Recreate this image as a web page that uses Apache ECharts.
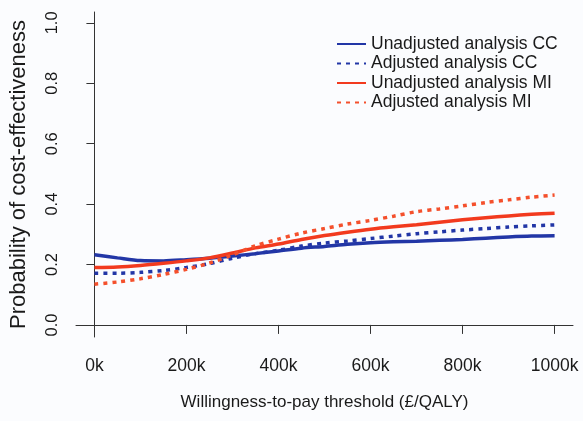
<!DOCTYPE html>
<html>
<head>
<meta charset="utf-8">
<script src="https://cdn.jsdelivr.net/npm/echarts@6/dist/echarts.min.js"></script>
<style>
html, body { margin: 0; padding: 0; background: #fbfcfe; }
#main { width: 583px; height: 421px; }
</style>
</head>
<body>
<div id="main"></div>
<script>
// willingness-to-pay threshold, in thousands of pounds
var wtp = [0, 50, 100, 150, 200, 250, 300, 350, 400, 450, 500,
           550, 600, 650, 700, 750, 800, 850, 900, 950, 1000];
var unadjCC = [0.232, 0.222, 0.213, 0.212, 0.216, 0.221, 0.228, 0.236, 0.245, 0.254, 0.260,
               0.267, 0.272, 0.275, 0.277, 0.280, 0.283, 0.287, 0.291, 0.294, 0.295];
var adjCC = [0.171, 0.171, 0.174, 0.180, 0.190, 0.203, 0.221, 0.236, 0.247, 0.261, 0.271,
             0.278, 0.286, 0.294, 0.302, 0.308, 0.314, 0.319, 0.324, 0.328, 0.331];
var unadjMI = [0.190, 0.192, 0.197, 0.204, 0.212, 0.222, 0.238, 0.255, 0.268, 0.283, 0.296,
               0.307, 0.317, 0.325, 0.332, 0.340, 0.348, 0.355, 0.361, 0.366, 0.370];
var adjMI = [0.135, 0.142, 0.153, 0.167, 0.184, 0.205, 0.232, 0.262, 0.284, 0.304, 0.319,
             0.334, 0.346, 0.360, 0.375, 0.384, 0.394, 0.405, 0.414, 0.423, 0.430];
var xTicks = [0, 200, 400, 600, 800, 1000];
var yTicks = [0, 0.2, 0.4, 0.6, 0.8, 1.0];
var names = ['Unadjusted analysis CC', 'Adjusted analysis CC', 'Unadjusted analysis MI', 'Adjusted analysis MI'];

var blue = '#2236a6';
var red = '#f23a1e';
var redDot = '#f4502c';
var ink = '#1a1a1a';
var font = 'Liberation Sans';

function pairs(ys) {
    return wtp.map(function (x, i) { return [x, ys[i]]; });
}

function line(name, ys, color, dotted) {
    return {
        name: name,
        type: 'line',
        data: pairs(ys),
        showSymbol: false,
        symbol: 'none',
        smooth: 0.3,
        color: color,
        lineStyle: { color: color, width: 3.5, type: dotted ? [4, 5] : 'solid', cap: 'butt' }
    };
}

var myChart = echarts.init(document.getElementById('main'), null, { renderer: 'canvas' });
var option = {
    backgroundColor: '#fbfcfe',
    animation: false,
    textStyle: { fontFamily: font, color: ink },
    grid: { left: 75, right: 10, top: 12, bottom: 84 },
    legend: {
        orient: 'vertical',
        left: 331,
        top: 30,
        itemWidth: 29,
        itemHeight: 12,
        itemGap: 1.5,
        data: names,
        itemStyle: { opacity: 0 },
        textStyle: { fontFamily: font, fontSize: 17.5, lineHeight: 17.5, color: ink }
    },
    xAxis: {
        type: 'value',
        min: -40,
        max: 1040,
        name: 'Willingness-to-pay threshold (£/QALY)',
        nameLocation: 'middle',
        nameGap: 57,
        nameTextStyle: { fontFamily: font, fontSize: 17, color: ink },
        splitLine: { show: false },
        axisLine: { show: true, lineStyle: { color: '#333', width: 1 } },
        axisTick: { show: true, length: 9, customValues: xTicks, lineStyle: { color: '#333' } },
        axisLabel: {
            customValues: xTicks,
            margin: 20,
            fontSize: 17.5,
            color: ink,
            formatter: function (v) { return v + 'k'; }
        }
    },
    yAxis: {
        type: 'value',
        min: -0.04,
        max: 1.036,
        name: 'Probability of cost-effectiveness',
        nameLocation: 'middle',
        nameGap: 46,
        nameTextStyle: { fontFamily: font, fontSize: 22, color: ink },
        splitLine: { show: false },
        axisLine: { show: true, lineStyle: { color: '#333', width: 1 } },
        axisTick: { show: true, length: 8, customValues: yTicks, lineStyle: { color: '#333' } },
        axisLabel: {
            customValues: yTicks,
            rotate: 90,
            margin: 15,
            fontSize: 16.5,
            color: ink,
            formatter: function (v) { return v.toFixed(1); }
        }
    },
    series: [
        line(names[0], unadjCC, blue, false),
        line(names[1], adjCC, blue, true),
        line(names[2], unadjMI, red, false),
        line(names[3], adjMI, redDot, true)
    ]
};
myChart.setOption(option);
</script>
</body>
</html>
